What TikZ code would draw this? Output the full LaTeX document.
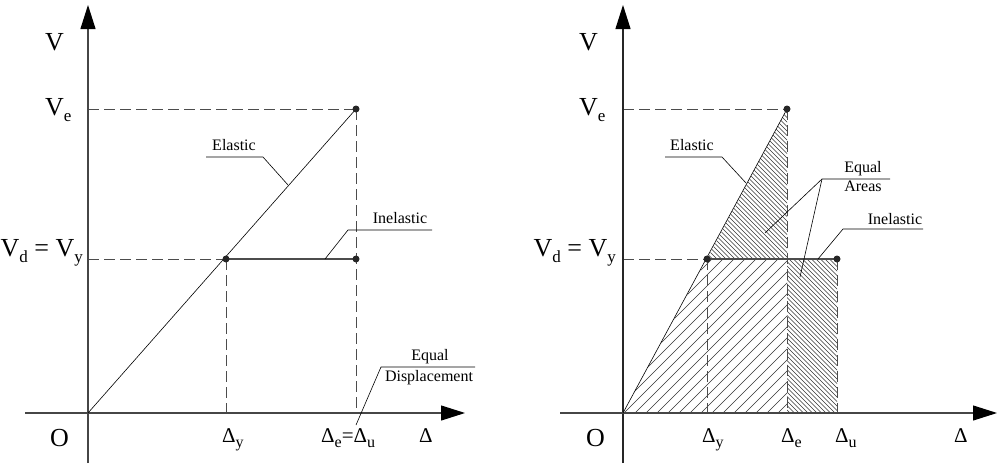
\documentclass[tikz,border=0pt]{standalone}
\usepackage{fontspec}
\IfFontExistsTF{LiberationSerif-Regular.ttf}
  {\setmainfont{LiberationSerif-Regular.ttf}[Ligatures=TeX]}
  {\setmainfont{Liberation Serif}[Ligatures=TeX]}
\usetikzlibrary{arrows.meta}
\newcommand{\sbs}[1]{\raisebox{-6.5pt}{\fontsize{17}{17}\selectfont #1}}
\newcommand{\sbd}[1]{\raisebox{-5.5pt}{\fontsize{16}{16}\selectfont #1}}
\newcommand{\bigf}{\rmfamily\fontsize{26}{30}\selectfont}
\newcommand{\delf}{\rmfamily\fontsize{21}{25}\selectfont}
\tikzset{
  axisline/.style={line width=1.1pt, gray!55!black, -{Triangle[length=24pt,width=15pt,color=black]}},
  axisdark/.style={line width=1.1pt, black!85, -{Triangle[length=24pt,width=15pt,color=black]}},
  dashline/.style={gray!60!black, line width=0.9pt, dash pattern=on 11pt off 5pt},
  plateau/.style={gray!60!black, line width=1.1pt},
  elastline/.style={black, line width=0.6pt},
  lead/.style={black, line width=0.6pt},
  dotmark/.style={circle, fill=black!85, inner sep=0pt, minimum size=7pt},
  biglbl/.style={font=\bigf, inner sep=0pt, anchor=base west},
  dellbl/.style={font=\delf, inner sep=0pt, anchor=base west},
  smalllbl/.style={font=\rmfamily\fontsize{16}{19}\selectfont, inner sep=0pt, anchor=base},
  hatch/.style={black!80, line width=0.45pt}
}
\begin{document}
\begin{tikzpicture}[x=1pt,y=-1pt]
\useasboundingbox (0,0) rectangle (997,466);
% ---------- LEFT ----------
\coordinate (LO) at (88,413);
\coordinate (LVe) at (88,109);
\coordinate (LVy) at (88,259);
\coordinate (LE) at (356,109);
\coordinate (LY) at (226,259);
\coordinate (LU) at (356,259);
\coordinate (LDy) at (226,413);
\coordinate (LDe) at (356,413);
\coordinate (LYbot) at (88,463);
\coordinate (LYtop) at (88,5);
\coordinate (LXl) at (25,413);
\coordinate (LXr) at (465,413);
\draw[dashline] (LVe) -- (LE);
\draw[dashline] (LE) -- (LDe);
\draw[dashline] (LVy) -- (LY);
\draw[dashline] (LY) -- (LDy);
\draw[axisline] (LYbot) -- (LYtop);
\draw[axisline] (LXl) -- (LXr);
\draw[plateau] (LY) -- (LU);
\draw[elastline] (LO) -- (LE);
\node[dotmark] (ldot1) at (LE) {};
\node[dotmark] (ldot2) at (LY) {};
\node[dotmark] (ldot3) at (LU) {};
% leaders left
\coordinate (le1) at (206,157); \coordinate (le2) at (263,157); \coordinate (le3) at (288,185);
\draw[lead] (le1) -- (le2) -- (le3);
\coordinate (li1) at (432,230); \coordinate (li2) at (348,230); \coordinate (li3) at (325,259);
\draw[lead] (li1) -- (li2) -- (li3);
\coordinate (ld1) at (475,367); \coordinate (ld2) at (381,367); \coordinate (ld3) at (356,425);
\draw[lead] (ld1) -- (ld2) -- (ld3);
\node[smalllbl] (lelastic) at (234,150) {Elastic};
\node[smalllbl] (linel) at (400,223) {Inelastic};
\node[smalllbl] (lequal) at (430,360) {Equal};
\node[smalllbl] (ldisp) at (429,381) {Displacement};
% axis labels left
\node[biglbl] (lV) at (45,50) {V};
\node[biglbl] (lVe) at (45,115) {V\sbs{e}};
\node[biglbl, anchor=base east] (lVd) at (83,256) {V\sbs{d} = V\sbs{y}};
\node[biglbl] (lOo) at (50,446) {O};
\node[dellbl] (lDy) at (222,442) {Δ\sbd{y}};
\node[dellbl] (lDeu) at (321,442) {Δ\sbd{e}=Δ\sbd{u}};
\node[dellbl] (lD) at (419,442) {Δ};
% ---------- RIGHT ----------
\coordinate (RO) at (623,413);
\coordinate (RVe) at (623,109);
\coordinate (RVy) at (623,259);
\coordinate (RE) at (787,109);
\coordinate (RY) at (707,259);
\coordinate (RM) at (787,259);
\coordinate (RU) at (837,259);
\coordinate (RDy) at (707,413);
\coordinate (RDe) at (787,413);
\coordinate (RDu) at (837,413);
\coordinate (RYbot) at (623,463);
\coordinate (RYtop) at (623,5);
\coordinate (RXl) at (560,413);
\coordinate (RXr) at (997,413);
% hatching
\begin{scope}
\clip (RO) -- (RY) -- (RM) -- (RDe) -- cycle;
\foreach \c in {960,971,...,1215} { \draw[hatch] (\c-500,500) -- (\c,0); }
\end{scope}
\begin{scope}
\clip (RY) -- (RE) -- (RM) -- cycle (RM) rectangle (RDu);
\foreach \c in {368,372.5,...,685} { \draw[hatch] (\c,0) -- (\c+500,500); }
\end{scope}
\draw[dashline] (RVe) -- (RE);
\draw[dashline] (RE) -- (RDe);
\draw[dashline] (RVy) -- (RY);
\draw[dashline] (RY) -- (RDy);
\draw[dashline] (RU) -- (RDu);
\draw[axisdark] (RYbot) -- (RYtop);
\draw[axisline] (RXl) -- (RXr);
\draw[plateau] (RY) -- (RU);
\draw[elastline] (RO) -- (RE);
\node[dotmark] (rdot1) at (RE) {};
\node[dotmark] (rdot2) at (RY) {};
\node[dotmark] (rdot3) at (RU) {};
% leaders right
\coordinate (re1) at (665,157); \coordinate (re2) at (722,157); \coordinate (re3) at (746,183);
\draw[lead] (re1) -- (re2) -- (re3);
\coordinate (ra1) at (890,179); \coordinate (ra2) at (822,179); \coordinate (ra3) at (765,233); \coordinate (ra4) at (800,277);
\draw[lead] (ra1) -- (ra2) -- (ra3);
\draw[lead] (ra2) -- (ra4);
\coordinate (ri1) at (923,229); \coordinate (ri2) at (843,229); \coordinate (ri3) at (818,259);
\draw[lead] (ri1) -- (ri2) -- (ri3);
\node[smalllbl] (relastic) at (692,150) {Elastic};
\node[smalllbl] (requal) at (863,172) {Equal};
\node[smalllbl] (rareas) at (863,191) {Areas};
\node[smalllbl] (rinel) at (895,224) {Inelastic};
% axis labels right
\node[biglbl] (rV) at (579,50) {V};
\node[biglbl] (rVe) at (579,115) {V\sbs{e}};
\node[biglbl, anchor=base east] (rVd) at (616,256) {V\sbs{d} = V\sbs{y}};
\node[biglbl] (rOo) at (586,446) {O};
\node[dellbl] (rDy) at (702,442) {Δ\sbd{y}};
\node[dellbl] (rDe) at (781,442) {Δ\sbd{e}};
\node[dellbl] (rDu) at (835,442) {Δ\sbd{u}};
\node[dellbl] (rD) at (954,442) {Δ};
\end{tikzpicture}
\end{document}
